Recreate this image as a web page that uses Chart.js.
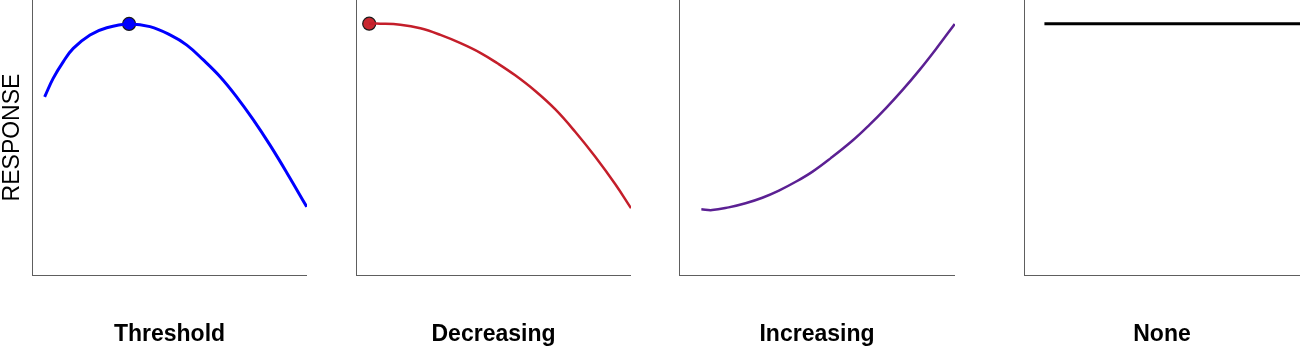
<!DOCTYPE html>
<html>
<head>
<meta charset="utf-8">
<script src="https://cdn.jsdelivr.net/npm/chart.js@4"></script>
<style>
  body { margin: 0; background: #fff; }
  #wrap { position: relative; width: 1300px; height: 351px; overflow: hidden; }
  #wrap canvas { position: absolute; top: 0; }
</style>
</head>
<body>
<div id="wrap"></div>
<script>
// panel names, read under each plot
const panelNames = ["Threshold", "Decreasing", "Increasing", "None"];

// response curves, x and y on a 0-100 scale
const thresholdX = [4.6, 7.7, 11.4, 15.0, 21.1, 27.2, 35.3, 42.9, 50.2, 56.3, 62.3, 68.4, 74.4, 80.5, 86.5, 92.6, 99.9];
const thresholdY = [64.8, 71.5, 77.6, 82.4, 87.3, 89.9, 91.3, 90.3, 87.3, 83.6, 78.2, 72.1, 64.8, 56.4, 47.3, 37.3, 24.8];
const thresholdPeak = [35.3, 91.3];

const decreasingX = [4.8, 8.8, 16.1, 23.4, 30.7, 38.0, 45.2, 51.4, 57.9, 65.2, 72.5, 79.7, 87.0, 94.3, 100];
const decreasingY = [91.4, 91.4, 91.0, 89.7, 87.3, 84.3, 80.8, 77.0, 72.6, 66.9, 60.2, 52.1, 43.0, 33.0, 24.3];
const decreasingPeak = [4.8, 91.4];

const increasingX = [8.1, 12.0, 18.0, 24.1, 30.2, 36.2, 42.3, 48.4, 55.0, 62.9, 68.9, 75.0, 81.1, 87.1, 93.2, 99.9];
const increasingY = [23.9, 23.6, 24.6, 26.1, 28.1, 30.7, 33.9, 37.6, 42.5, 48.9, 54.5, 60.7, 67.4, 74.5, 82.3, 91.3];

const noneX = [7.4, 100];
const noneY = [91.4, 91.4];

const toPoints = (xs, ys) => xs.map((x, i) => ({ x: x, y: ys[i] }));

Chart.defaults.font.family = "'Liberation Sans', Arial, sans-serif";

const panels = [
  { left: 0, width: 307, yWidth: 32, xs: thresholdX, ys: thresholdY, peak: thresholdPeak,
    colour: "#0000ff", lineWidth: 3, dotColour: "#0000ff", yTitle: "RESPONSE" },
  { left: 340, width: 291, yWidth: 16, xs: decreasingX, ys: decreasingY, peak: decreasingPeak,
    colour: "#c41e2a", lineWidth: 2.5, dotColour: "#c8272f" },
  { left: 660, width: 295, yWidth: 19, xs: increasingX, ys: increasingY,
    colour: "#5b2093", lineWidth: 2.5 },
  { left: 1000, width: 300, yWidth: 24, xs: noneX, ys: noneY,
    colour: "#000000", lineWidth: 3 }
];

const wrap = document.getElementById("wrap");

panels.forEach((p, i) => {
  const canvas = document.createElement("canvas");
  canvas.width = p.width;
  canvas.height = 351;
  canvas.style.left = p.left + "px";
  wrap.appendChild(canvas);

  const datasets = [
    {
      label: panelNames[i],
      data: toPoints(p.xs, p.ys),
      borderColor: p.colour,
      borderWidth: p.lineWidth,
      pointRadius: 0,
      fill: false,
      tension: 0.4
    }
  ];
  if (p.peak) {
    datasets.push({
      label: panelNames[i] + " peak",
      data: [{ x: p.peak[0], y: p.peak[1] }],
      showLine: false,
      pointRadius: 6.5,
      pointBackgroundColor: p.dotColour,
      pointBorderColor: "#1a1a1a",
      pointBorderWidth: 1.2
    });
  }

  new Chart(canvas, {
    type: "line",
    data: { datasets: datasets },
    options: {
      responsive: false,
      animation: false,
      layout: { autoPadding: false, padding: 0 },
      plugins: { legend: { display: false }, tooltip: { enabled: false } },
      scales: {
        x: {
          type: "linear",
          min: 0,
          max: 100,
          ticks: { display: false },
          grid: { display: false },
          border: { display: true, color: "#5e5e5e", width: 1 },
          title: {
            display: true,
            text: panelNames[i],
            color: "#000",
            font: { size: 23, weight: "bold" },
            padding: { top: 0, bottom: 3 }
          },
          afterFit: s => { s.height = 76; }
        },
        y: {
          min: 0,
          max: 100,
          ticks: { display: false },
          grid: { display: false },
          border: { display: true, color: "#5e5e5e", width: 1 },
          title: {
            display: !!p.yTitle,
            text: p.yTitle || "",
            color: "#000",
            font: { size: 23, lineHeight: 1 },
            padding: { top: 1, bottom: 0 }
          },
          afterFit: s => { s.width = p.yWidth; }
        }
      }
    }
  });
});
</script>
</body>
</html>
